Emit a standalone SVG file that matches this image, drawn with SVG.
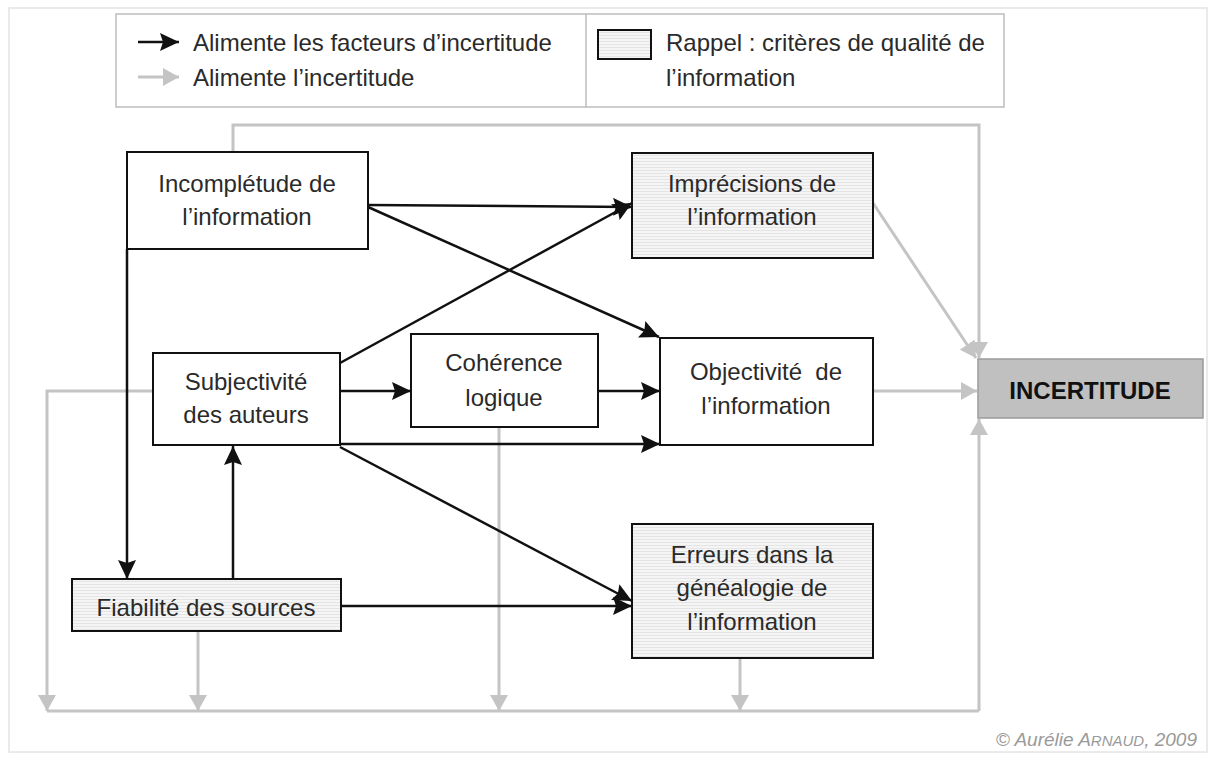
<svg xmlns="http://www.w3.org/2000/svg" width="1214" height="760" viewBox="0 0 1214 760">
<style>
.t{font-family:"Liberation Sans",Arial,sans-serif;font-size:24px;fill:#2a2a2a;text-anchor:middle}
.lg{font-family:"Liberation Sans",Arial,sans-serif;font-size:24px;fill:#2a2a2a}
.box{stroke:#111;stroke-width:2;fill:#fff}
.crit{stroke:#111;stroke-width:2;fill:url(#stripes)}
.blk{stroke:#111;stroke-width:2.5;fill:none;marker-end:url(#ab)}
.gry{stroke:#c4c4c4;stroke-width:3;fill:none}
.gya{stroke:#c4c4c4;stroke-width:3;fill:none;marker-end:url(#ag)}
</style>
<defs>
<pattern id="stripes" width="6" height="3" patternUnits="userSpaceOnUse">
<rect width="6" height="3" fill="#f5f5f5"/>
<rect y="2" width="6" height="1" fill="#e4e4e4"/>
</pattern>
<marker id="ab" markerUnits="userSpaceOnUse" markerWidth="20" markerHeight="18" refX="19" refY="9" orient="auto">
<path d="M0,0 L19,9 L0,18 L3,9 Z" fill="#111"/>
</marker>
<marker id="ag" markerUnits="userSpaceOnUse" markerWidth="18" markerHeight="18" refX="16" refY="9" orient="auto">
<path d="M0,0 L16,9 L0,18 Z" fill="#c4c4c4"/>
</marker>
</defs>
<rect x="0" y="0" width="1214" height="760" fill="#fff"/>
<rect x="9" y="8" width="1198" height="744" fill="none" stroke="#e4e4e4" stroke-width="1.5"/>

<g id="legend">
<rect x="116" y="14" width="888" height="93" fill="#fff" stroke="#bdbdbd" stroke-width="1.5"/>
<line x1="586" y1="14" x2="586" y2="107" stroke="#bdbdbd" stroke-width="1.5"/>
<line x1="138" y1="42" x2="179" y2="42" class="blk"/>
<line x1="138" y1="77" x2="179" y2="77" class="gya"/>
<text class="lg" x="193" y="51">Alimente les facteurs d’incertitude</text>
<text class="lg" x="193" y="86">Alimente l’incertitude</text>
<rect x="598" y="30" width="53" height="29" class="crit"/>
<text class="lg" x="666" y="51">Rappel : critères de qualité de</text>
<text class="lg" x="666" y="86">l’information</text>
</g>

<g id="connectors">
<path class="gya" d="M233,152 V125 H979 V358"/>
<line class="gya" x1="873" y1="203" x2="976" y2="358"/>
<line class="gya" x1="873" y1="391" x2="977" y2="391"/>
<path class="gya" d="M153,391 H47 V711"/>
<line class="gry" x1="47" y1="711" x2="979" y2="711"/>
<line class="gya" x1="979" y1="711" x2="979" y2="419"/>
<line class="gya" x1="198" y1="631" x2="198" y2="711"/>
<line class="gya" x1="499" y1="427" x2="499" y2="711"/>
<line class="gya" x1="740" y1="658" x2="740" y2="711"/>

<line class="blk" x1="368" y1="205" x2="632" y2="207"/>
<line class="blk" x1="368" y1="207" x2="659" y2="337"/>
<line class="blk" x1="340" y1="363" x2="632" y2="203"/>
<line class="blk" x1="340" y1="391" x2="411" y2="391"/>
<line class="blk" x1="598" y1="391" x2="660" y2="391"/>
<line class="blk" x1="340" y1="444" x2="660" y2="444"/>
<line class="blk" x1="340" y1="447" x2="632" y2="601"/>
<line class="blk" x1="341" y1="606" x2="632" y2="606"/>
<line class="blk" x1="127" y1="249" x2="127" y2="579"/>
<line class="blk" x1="233" y1="579" x2="233" y2="446"/>
</g>

<g id="incompletude">
<rect x="127" y="152" width="241" height="97" class="box"/>
<text class="t" x="247" y="192">Incomplétude de</text>
<text class="t" x="247" y="225">l’information</text>
</g>
<g id="imprecisions">
<rect x="632" y="153" width="241" height="105" class="crit"/>
<text class="t" x="752" y="192">Imprécisions de</text>
<text class="t" x="752" y="225">l’information</text>
</g>
<g id="subjectivite">
<rect x="153" y="353" width="187" height="92" class="box"/>
<text class="t" x="246" y="390">Subjectivité</text>
<text class="t" x="246" y="423">des auteurs</text>
</g>
<g id="coherence">
<rect x="411" y="334" width="187" height="93" class="box"/>
<text class="t" x="504" y="371">Cohérence</text>
<text class="t" x="504" y="406">logique</text>
</g>
<g id="objectivite">
<rect x="660" y="338" width="213" height="107" class="box"/>
<text class="t" x="766" y="380" xml:space="preserve">Objectivité  de</text>
<text class="t" x="766" y="414">l’information</text>
</g>
<g id="incertitude">
<rect x="978" y="359" width="225" height="59" fill="#c0c0c0" stroke="#9a9a9a" stroke-width="1.5"/>
<text x="1090" y="399" font-family="Liberation Sans, Arial, sans-serif" font-size="24" font-weight="bold" fill="#111" text-anchor="middle">INCERTITUDE</text>
</g>
<g id="fiabilite">
<rect x="72" y="579" width="269" height="52" class="crit"/>
<text class="t" x="206" y="616">Fiabilité des sources</text>
</g>
<g id="erreurs">
<rect x="632" y="524" width="241" height="134" class="crit"/>
<text class="t" x="752" y="563">Erreurs dans la</text>
<text class="t" x="752" y="596">généalogie de</text>
<text class="t" x="752" y="630">l’information</text>
</g>

<text x="1197" y="746" font-family="Liberation Sans, Arial, sans-serif" font-size="19" font-style="italic" fill="#9a9a9a" text-anchor="end">© Aurélie A<tspan font-size="15">RNAUD</tspan>, 2009</text>
</svg>
